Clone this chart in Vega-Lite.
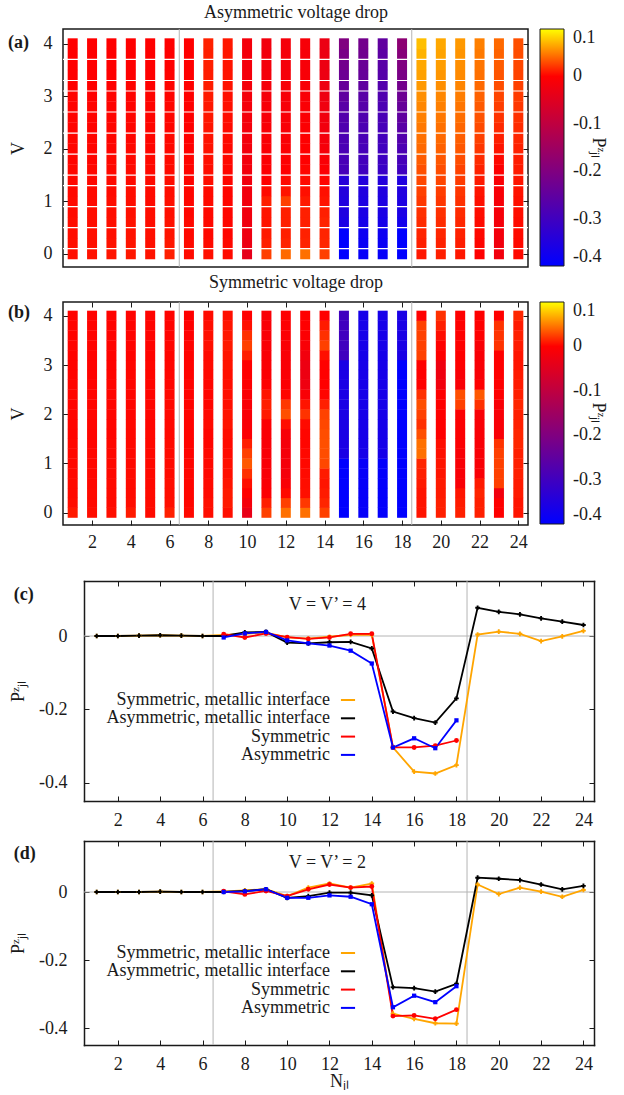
{
"$schema":"https://vega.github.io/schema/vega-lite/v6.json",
"padding":{"left":7,"top":2,"right":0,"bottom":0},
"background":"white",
"config":{
 "font":"Liberation Serif",
 "locale":{"number":{"decimal":".","thousands":",","grouping":[3],"currency":["$",""],"minus":"-"}},
 "view":{"stroke":"#1a1a1a","strokeWidth":1.5},
 "axis":{"domain":false,"grid":false,"labelFont":"Liberation Serif","labelFontSize":18,"labelColor":"#1a1a1a","titleFont":"Liberation Serif","titleFontSize":18,"titleFontWeight":"normal","titleColor":"#1a1a1a","tickColor":"#1a1a1a","tickSize":-5,"tickWidth":1,"labelFlush":false,"format":".1~f","domainColor":"#1a1a1a","domainWidth":1.5,"domainCap":"square"},
 "legend":{"labelFont":"Liberation Serif","labelFontSize":18,"labelColor":"#1a1a1a","titleFont":"Liberation Serif","titleFontSize":18,"titleFontWeight":"normal","titleColor":"#1a1a1a"},
 "text":{"font":"Liberation Serif","fontSize":18,"color":"#1a1a1a"}
},
"datasets":{
"interfaces":[{"N":6.5},{"N":18.5}],
"gapsA":[{"V":0.1},{"V":0.5},{"V":0.9},{"V":1.3},{"V":1.5},{"V":1.9},{"V":2.3},{"V":2.7},{"V":3.1},{"V":3.3},{"V":3.7}],
"asym":[
{"N":1,"V":0,"P":0.006},{"N":1,"V":0.2,"P":0.006},{"N":1,"V":0.4,"P":0.005},{"N":1,"V":0.6,"P":0.005},{"N":1,"V":0.8,"P":0.004},{"N":1,"V":1,"P":0.004},{"N":1,"V":1.2,"P":0.003},{"N":1,"V":1.4,"P":0.003},{"N":1,"V":1.6,"P":0.003},{"N":1,"V":1.8,"P":0.002},{"N":1,"V":2,"P":0.002},{"N":1,"V":2.2,"P":0.002},{"N":1,"V":2.4,"P":0.001},{"N":1,"V":2.6,"P":0.001},{"N":1,"V":2.8,"P":0.001},{"N":1,"V":3,"P":0.001},{"N":1,"V":3.2,"P":0},{"N":1,"V":3.4,"P":0},{"N":1,"V":3.6,"P":0},{"N":1,"V":3.8,"P":0},{"N":1,"V":4,"P":0},
{"N":2,"V":0,"P":0.007},{"N":2,"V":0.2,"P":0.006},{"N":2,"V":0.4,"P":0.006},{"N":2,"V":0.6,"P":0.005},{"N":2,"V":0.8,"P":0.005},{"N":2,"V":1,"P":0.004},{"N":2,"V":1.2,"P":0.004},{"N":2,"V":1.4,"P":0.003},{"N":2,"V":1.6,"P":0.003},{"N":2,"V":1.8,"P":0.002},{"N":2,"V":2,"P":0.002},{"N":2,"V":2.2,"P":0.002},{"N":2,"V":2.4,"P":0.001},{"N":2,"V":2.6,"P":0.001},{"N":2,"V":2.8,"P":0.001},{"N":2,"V":3,"P":0},{"N":2,"V":3.2,"P":0},{"N":2,"V":3.4,"P":0},{"N":2,"V":3.6,"P":0},{"N":2,"V":3.8,"P":0},{"N":2,"V":4,"P":0},
{"N":3,"V":0,"P":0.008},{"N":3,"V":0.2,"P":0.007},{"N":3,"V":0.4,"P":0.006},{"N":3,"V":0.6,"P":0.006},{"N":3,"V":0.8,"P":0.005},{"N":3,"V":1,"P":0.005},{"N":3,"V":1.2,"P":0.004},{"N":3,"V":1.4,"P":0.004},{"N":3,"V":1.6,"P":0.003},{"N":3,"V":1.8,"P":0.003},{"N":3,"V":2,"P":0.002},{"N":3,"V":2.2,"P":0.002},{"N":3,"V":2.4,"P":0.002},{"N":3,"V":2.6,"P":0.001},{"N":3,"V":2.8,"P":0.001},{"N":3,"V":3,"P":0.001},{"N":3,"V":3.2,"P":0},{"N":3,"V":3.4,"P":0},{"N":3,"V":3.6,"P":0},{"N":3,"V":3.8,"P":0},{"N":3,"V":4,"P":0},
{"N":4,"V":0,"P":0.009},{"N":4,"V":0.2,"P":0.008},{"N":4,"V":0.4,"P":0.007},{"N":4,"V":0.6,"P":0.007},{"N":4,"V":0.8,"P":0.006},{"N":4,"V":1,"P":0.005},{"N":4,"V":1.2,"P":0.005},{"N":4,"V":1.4,"P":0.004},{"N":4,"V":1.6,"P":0.004},{"N":4,"V":1.8,"P":0.003},{"N":4,"V":2,"P":0.003},{"N":4,"V":2.2,"P":0.002},{"N":4,"V":2.4,"P":0.002},{"N":4,"V":2.6,"P":0.002},{"N":4,"V":2.8,"P":0.001},{"N":4,"V":3,"P":0.001},{"N":4,"V":3.2,"P":0.001},{"N":4,"V":3.4,"P":0},{"N":4,"V":3.6,"P":0},{"N":4,"V":3.8,"P":0},{"N":4,"V":4,"P":0},
{"N":5,"V":0,"P":0.007},{"N":5,"V":0.2,"P":0.006},{"N":5,"V":0.4,"P":0.006},{"N":5,"V":0.6,"P":0.005},{"N":5,"V":0.8,"P":0.005},{"N":5,"V":1,"P":0.004},{"N":5,"V":1.2,"P":0.004},{"N":5,"V":1.4,"P":0.004},{"N":5,"V":1.6,"P":0.003},{"N":5,"V":1.8,"P":0.003},{"N":5,"V":2,"P":0.002},{"N":5,"V":2.2,"P":0.002},{"N":5,"V":2.4,"P":0.002},{"N":5,"V":2.6,"P":0.001},{"N":5,"V":2.8,"P":0.001},{"N":5,"V":3,"P":0.001},{"N":5,"V":3.2,"P":0},{"N":5,"V":3.4,"P":0},{"N":5,"V":3.6,"P":0},{"N":5,"V":3.8,"P":0},{"N":5,"V":4,"P":0},
{"N":6,"V":0,"P":0.012},{"N":6,"V":0.2,"P":0.009},{"N":6,"V":0.4,"P":0.008},{"N":6,"V":0.6,"P":0.007},{"N":6,"V":0.8,"P":0.006},{"N":6,"V":1,"P":0.006},{"N":6,"V":1.2,"P":0.005},{"N":6,"V":1.4,"P":0.005},{"N":6,"V":1.6,"P":0.004},{"N":6,"V":1.8,"P":0.004},{"N":6,"V":2,"P":0.003},{"N":6,"V":2.2,"P":0.003},{"N":6,"V":2.4,"P":0.002},{"N":6,"V":2.6,"P":0.002},{"N":6,"V":2.8,"P":0.002},{"N":6,"V":3,"P":0.001},{"N":6,"V":3.2,"P":0.001},{"N":6,"V":3.4,"P":0.001},{"N":6,"V":3.6,"P":0},{"N":6,"V":3.8,"P":0},{"N":6,"V":4,"P":0},
{"N":7,"V":0,"P":0.004},{"N":7,"V":0.2,"P":0.004},{"N":7,"V":0.4,"P":0.003},{"N":7,"V":0.6,"P":0.003},{"N":7,"V":0.8,"P":0.002},{"N":7,"V":1,"P":0.002},{"N":7,"V":1.2,"P":0.002},{"N":7,"V":1.4,"P":0.001},{"N":7,"V":1.6,"P":0.001},{"N":7,"V":1.8,"P":0.001},{"N":7,"V":2,"P":0},{"N":7,"V":2.2,"P":0},{"N":7,"V":2.4,"P":0},{"N":7,"V":2.6,"P":0},{"N":7,"V":2.8,"P":0},{"N":7,"V":3,"P":0},{"N":7,"V":3.2,"P":0},{"N":7,"V":3.4,"P":0},{"N":7,"V":3.6,"P":0},{"N":7,"V":3.8,"P":0},{"N":7,"V":4,"P":0},
{"N":8,"V":0,"P":0.006},{"N":8,"V":0.2,"P":0.004},{"N":8,"V":0.4,"P":0.003},{"N":8,"V":0.6,"P":0.003},{"N":8,"V":0.8,"P":0.003},{"N":8,"V":1,"P":0.004},{"N":8,"V":1.2,"P":0.004},{"N":8,"V":1.4,"P":0.005},{"N":8,"V":1.6,"P":0.005},{"N":8,"V":1.8,"P":0.006},{"N":8,"V":2,"P":0.007},{"N":8,"V":2.2,"P":0.007},{"N":8,"V":2.4,"P":0.008},{"N":8,"V":2.6,"P":0.009},{"N":8,"V":2.8,"P":0.009},{"N":8,"V":3,"P":0.01},{"N":8,"V":3.2,"P":0.011},{"N":8,"V":3.4,"P":0.011},{"N":8,"V":3.6,"P":0.012},{"N":8,"V":3.8,"P":0.012},{"N":8,"V":4,"P":0.013},
{"N":9,"V":0,"P":0.004},{"N":9,"V":0.2,"P":0.003},{"N":9,"V":0.4,"P":0.002},{"N":9,"V":0.6,"P":0.002},{"N":9,"V":0.8,"P":0.002},{"N":9,"V":1,"P":0.002},{"N":9,"V":1.2,"P":0.002},{"N":9,"V":1.4,"P":0.002},{"N":9,"V":1.6,"P":0.002},{"N":9,"V":1.8,"P":0.003},{"N":9,"V":2,"P":0.003},{"N":9,"V":2.2,"P":0.004},{"N":9,"V":2.4,"P":0.004},{"N":9,"V":2.6,"P":0.005},{"N":9,"V":2.8,"P":0.006},{"N":9,"V":3,"P":0.006},{"N":9,"V":3.2,"P":0.007},{"N":9,"V":3.4,"P":0.008},{"N":9,"V":3.6,"P":0.008},{"N":9,"V":3.8,"P":0.009},{"N":9,"V":4,"P":0.009},
{"N":10,"V":0,"P":-0.04},{"N":10,"V":0.2,"P":-0.028},{"N":10,"V":0.4,"P":-0.025},{"N":10,"V":0.6,"P":-0.024},{"N":10,"V":0.8,"P":-0.022},{"N":10,"V":1,"P":-0.021},{"N":10,"V":1.2,"P":-0.02},{"N":10,"V":1.4,"P":-0.02},{"N":10,"V":1.6,"P":-0.019},{"N":10,"V":1.8,"P":-0.019},{"N":10,"V":2,"P":-0.019},{"N":10,"V":2.2,"P":-0.018},{"N":10,"V":2.4,"P":-0.018},{"N":10,"V":2.6,"P":-0.018},{"N":10,"V":2.8,"P":-0.018},{"N":10,"V":3,"P":-0.017},{"N":10,"V":3.2,"P":-0.017},{"N":10,"V":3.4,"P":-0.017},{"N":10,"V":3.6,"P":-0.017},{"N":10,"V":3.8,"P":-0.017},{"N":10,"V":4,"P":-0.017},
{"N":11,"V":0,"P":0.025},{"N":11,"V":0.2,"P":0.012},{"N":11,"V":0.4,"P":0.01},{"N":11,"V":0.6,"P":0.008},{"N":11,"V":0.8,"P":0.008},{"N":11,"V":1,"P":0.012},{"N":11,"V":1.2,"P":0.004},{"N":11,"V":1.4,"P":0},{"N":11,"V":1.6,"P":-0.003},{"N":11,"V":1.8,"P":-0.005},{"N":11,"V":2,"P":-0.006},{"N":11,"V":2.2,"P":-0.008},{"N":11,"V":2.4,"P":-0.01},{"N":11,"V":2.6,"P":-0.012},{"N":11,"V":2.8,"P":-0.013},{"N":11,"V":3,"P":-0.015},{"N":11,"V":3.2,"P":-0.016},{"N":11,"V":3.4,"P":-0.018},{"N":11,"V":3.6,"P":-0.018},{"N":11,"V":3.8,"P":-0.02},{"N":11,"V":4,"P":-0.02},
{"N":12,"V":0,"P":0.041},{"N":12,"V":0.2,"P":0.014},{"N":12,"V":0.4,"P":0.012},{"N":12,"V":0.6,"P":0.012},{"N":12,"V":0.8,"P":0.012},{"N":12,"V":1,"P":0.025},{"N":12,"V":1.2,"P":0.008},{"N":12,"V":1.4,"P":0.004},{"N":12,"V":1.6,"P":0},{"N":12,"V":1.8,"P":-0.003},{"N":12,"V":2,"P":-0.005},{"N":12,"V":2.2,"P":-0.008},{"N":12,"V":2.4,"P":-0.01},{"N":12,"V":2.6,"P":-0.01},{"N":12,"V":2.8,"P":-0.012},{"N":12,"V":3,"P":-0.012},{"N":12,"V":3.2,"P":-0.013},{"N":12,"V":3.4,"P":-0.014},{"N":12,"V":3.6,"P":-0.015},{"N":12,"V":3.8,"P":-0.015},{"N":12,"V":4,"P":-0.016},
{"N":13,"V":0,"P":0.044},{"N":13,"V":0.2,"P":0.014},{"N":13,"V":0.4,"P":0.013},{"N":13,"V":0.6,"P":0.012},{"N":13,"V":0.8,"P":0.012},{"N":13,"V":1,"P":0.01},{"N":13,"V":1.2,"P":0.006},{"N":13,"V":1.4,"P":0.004},{"N":13,"V":1.6,"P":0.002},{"N":13,"V":1.8,"P":0},{"N":13,"V":2,"P":0},{"N":13,"V":2.2,"P":-0.002},{"N":13,"V":2.4,"P":-0.004},{"N":13,"V":2.6,"P":-0.006},{"N":13,"V":2.8,"P":-0.008},{"N":13,"V":3,"P":-0.009},{"N":13,"V":3.2,"P":-0.01},{"N":13,"V":3.4,"P":-0.011},{"N":13,"V":3.6,"P":-0.012},{"N":13,"V":3.8,"P":-0.012},{"N":13,"V":4,"P":-0.012},
{"N":14,"V":0,"P":0.025},{"N":14,"V":0.2,"P":0.015},{"N":14,"V":0.4,"P":0.014},{"N":14,"V":0.6,"P":0.014},{"N":14,"V":0.8,"P":0.012},{"N":14,"V":1,"P":0.008},{"N":14,"V":1.2,"P":0.006},{"N":14,"V":1.4,"P":0.002},{"N":14,"V":1.6,"P":-0.005},{"N":14,"V":1.8,"P":-0.01},{"N":14,"V":2,"P":-0.014},{"N":14,"V":2.2,"P":-0.018},{"N":14,"V":2.4,"P":-0.02},{"N":14,"V":2.6,"P":-0.022},{"N":14,"V":2.8,"P":-0.024},{"N":14,"V":3,"P":-0.026},{"N":14,"V":3.2,"P":-0.027},{"N":14,"V":3.4,"P":-0.028},{"N":14,"V":3.6,"P":-0.029},{"N":14,"V":3.8,"P":-0.03},{"N":14,"V":4,"P":-0.03},
{"N":15,"V":0,"P":-0.4},{"N":15,"V":0.2,"P":-0.4},{"N":15,"V":0.4,"P":-0.398},{"N":15,"V":0.6,"P":-0.36},{"N":15,"V":0.8,"P":-0.352},{"N":15,"V":1,"P":-0.35},{"N":15,"V":1.2,"P":-0.345},{"N":15,"V":1.4,"P":-0.34},{"N":15,"V":1.6,"P":-0.29},{"N":15,"V":1.8,"P":-0.287},{"N":15,"V":2,"P":-0.284},{"N":15,"V":2.2,"P":-0.28},{"N":15,"V":2.4,"P":-0.275},{"N":15,"V":2.6,"P":-0.27},{"N":15,"V":2.8,"P":-0.26},{"N":15,"V":3,"P":-0.25},{"N":15,"V":3.2,"P":-0.24},{"N":15,"V":3.4,"P":-0.23},{"N":15,"V":3.6,"P":-0.22},{"N":15,"V":3.8,"P":-0.21},{"N":15,"V":4,"P":-0.2},
{"N":16,"V":0,"P":-0.39},{"N":16,"V":0.2,"P":-0.385},{"N":16,"V":0.4,"P":-0.38},{"N":16,"V":0.6,"P":-0.365},{"N":16,"V":0.8,"P":-0.36},{"N":16,"V":1,"P":-0.355},{"N":16,"V":1.2,"P":-0.35},{"N":16,"V":1.4,"P":-0.345},{"N":16,"V":1.6,"P":-0.3},{"N":16,"V":1.8,"P":-0.295},{"N":16,"V":2,"P":-0.29},{"N":16,"V":2.2,"P":-0.285},{"N":16,"V":2.4,"P":-0.28},{"N":16,"V":2.6,"P":-0.275},{"N":16,"V":2.8,"P":-0.265},{"N":16,"V":3,"P":-0.26},{"N":16,"V":3.2,"P":-0.25},{"N":16,"V":3.4,"P":-0.24},{"N":16,"V":3.6,"P":-0.235},{"N":16,"V":3.8,"P":-0.225},{"N":16,"V":4,"P":-0.22},
{"N":17,"V":0,"P":-0.39},{"N":17,"V":0.2,"P":-0.385},{"N":17,"V":0.4,"P":-0.38},{"N":17,"V":0.6,"P":-0.365},{"N":17,"V":0.8,"P":-0.36},{"N":17,"V":1,"P":-0.355},{"N":17,"V":1.2,"P":-0.35},{"N":17,"V":1.4,"P":-0.345},{"N":17,"V":1.6,"P":-0.31},{"N":17,"V":1.8,"P":-0.305},{"N":17,"V":2,"P":-0.3},{"N":17,"V":2.2,"P":-0.295},{"N":17,"V":2.4,"P":-0.29},{"N":17,"V":2.6,"P":-0.285},{"N":17,"V":2.8,"P":-0.28},{"N":17,"V":3,"P":-0.275},{"N":17,"V":3.2,"P":-0.27},{"N":17,"V":3.4,"P":-0.265},{"N":17,"V":3.6,"P":-0.26},{"N":17,"V":3.8,"P":-0.255},{"N":17,"V":4,"P":-0.25},
{"N":18,"V":0,"P":-0.4},{"N":18,"V":0.2,"P":-0.4},{"N":18,"V":0.4,"P":-0.4},{"N":18,"V":0.6,"P":-0.37},{"N":18,"V":0.8,"P":-0.36},{"N":18,"V":1,"P":-0.355},{"N":18,"V":1.2,"P":-0.35},{"N":18,"V":1.4,"P":-0.35},{"N":18,"V":1.6,"P":-0.3},{"N":18,"V":1.8,"P":-0.29},{"N":18,"V":2,"P":-0.28},{"N":18,"V":2.2,"P":-0.27},{"N":18,"V":2.4,"P":-0.26},{"N":18,"V":2.6,"P":-0.25},{"N":18,"V":2.8,"P":-0.24},{"N":18,"V":3,"P":-0.23},{"N":18,"V":3.2,"P":-0.22},{"N":18,"V":3.4,"P":-0.21},{"N":18,"V":3.6,"P":-0.2},{"N":18,"V":3.8,"P":-0.19},{"N":18,"V":4,"P":-0.18},
{"N":19,"V":0,"P":0.009},{"N":19,"V":0.2,"P":0.012},{"N":19,"V":0.4,"P":0.014},{"N":19,"V":0.6,"P":0.017},{"N":19,"V":0.8,"P":0.019},{"N":19,"V":1,"P":0.022},{"N":19,"V":1.2,"P":0.025},{"N":19,"V":1.4,"P":0.028},{"N":19,"V":1.6,"P":0.031},{"N":19,"V":1.8,"P":0.036},{"N":19,"V":2,"P":0.041},{"N":19,"V":2.2,"P":0.044},{"N":19,"V":2.4,"P":0.047},{"N":19,"V":2.6,"P":0.05},{"N":19,"V":2.8,"P":0.053},{"N":19,"V":3,"P":0.056},{"N":19,"V":3.2,"P":0.06},{"N":19,"V":3.4,"P":0.063},{"N":19,"V":3.6,"P":0.066},{"N":19,"V":3.8,"P":0.07},{"N":19,"V":4,"P":0.075},
{"N":20,"V":0,"P":0.012},{"N":20,"V":0.2,"P":0.013},{"N":20,"V":0.4,"P":0.015},{"N":20,"V":0.6,"P":0.017},{"N":20,"V":0.8,"P":0.019},{"N":20,"V":1,"P":0.021},{"N":20,"V":1.2,"P":0.024},{"N":20,"V":1.4,"P":0.027},{"N":20,"V":1.6,"P":0.03},{"N":20,"V":1.8,"P":0.034},{"N":20,"V":2,"P":0.038},{"N":20,"V":2.2,"P":0.041},{"N":20,"V":2.4,"P":0.044},{"N":20,"V":2.6,"P":0.047},{"N":20,"V":2.8,"P":0.05},{"N":20,"V":3,"P":0.053},{"N":20,"V":3.2,"P":0.056},{"N":20,"V":3.4,"P":0.059},{"N":20,"V":3.6,"P":0.062},{"N":20,"V":3.8,"P":0.064},{"N":20,"V":4,"P":0.066},
{"N":21,"V":0,"P":0.009},{"N":21,"V":0.2,"P":0.011},{"N":21,"V":0.4,"P":0.013},{"N":21,"V":0.6,"P":0.015},{"N":21,"V":0.8,"P":0.017},{"N":21,"V":1,"P":0.019},{"N":21,"V":1.2,"P":0.021},{"N":21,"V":1.4,"P":0.023},{"N":21,"V":1.6,"P":0.026},{"N":21,"V":1.8,"P":0.03},{"N":21,"V":2,"P":0.034},{"N":21,"V":2.2,"P":0.037},{"N":21,"V":2.4,"P":0.04},{"N":21,"V":2.6,"P":0.043},{"N":21,"V":2.8,"P":0.046},{"N":21,"V":3,"P":0.049},{"N":21,"V":3.2,"P":0.052},{"N":21,"V":3.4,"P":0.054},{"N":21,"V":3.6,"P":0.056},{"N":21,"V":3.8,"P":0.058},{"N":21,"V":4,"P":0.06},
{"N":22,"V":0,"P":0},{"N":22,"V":0.2,"P":0.002},{"N":22,"V":0.4,"P":0.003},{"N":22,"V":0.6,"P":0.004},{"N":22,"V":0.8,"P":0.005},{"N":22,"V":1,"P":0.006},{"N":22,"V":1.2,"P":0.008},{"N":22,"V":1.4,"P":0.01},{"N":22,"V":1.6,"P":0.013},{"N":22,"V":1.8,"P":0.017},{"N":22,"V":2,"P":0.021},{"N":22,"V":2.2,"P":0.025},{"N":22,"V":2.4,"P":0.029},{"N":22,"V":2.6,"P":0.032},{"N":22,"V":2.8,"P":0.035},{"N":22,"V":3,"P":0.038},{"N":22,"V":3.2,"P":0.041},{"N":22,"V":3.4,"P":0.044},{"N":22,"V":3.6,"P":0.046},{"N":22,"V":3.8,"P":0.048},{"N":22,"V":4,"P":0.05},
{"N":23,"V":0,"P":-0.02},{"N":23,"V":0.2,"P":-0.02},{"N":23,"V":0.4,"P":-0.018},{"N":23,"V":0.6,"P":-0.016},{"N":23,"V":0.8,"P":-0.014},{"N":23,"V":1,"P":-0.012},{"N":23,"V":1.2,"P":-0.01},{"N":23,"V":1.4,"P":-0.006},{"N":23,"V":1.6,"P":-0.002},{"N":23,"V":1.8,"P":0.003},{"N":23,"V":2,"P":0.008},{"N":23,"V":2.2,"P":0.012},{"N":23,"V":2.4,"P":0.016},{"N":23,"V":2.6,"P":0.02},{"N":23,"V":2.8,"P":0.024},{"N":23,"V":3,"P":0.027},{"N":23,"V":3.2,"P":0.03},{"N":23,"V":3.4,"P":0.033},{"N":23,"V":3.6,"P":0.036},{"N":23,"V":3.8,"P":0.039},{"N":23,"V":4,"P":0.041},
{"N":24,"V":0,"P":0.003},{"N":24,"V":0.2,"P":0.003},{"N":24,"V":0.4,"P":0.004},{"N":24,"V":0.6,"P":0.004},{"N":24,"V":0.8,"P":0.005},{"N":24,"V":1,"P":0.006},{"N":24,"V":1.2,"P":0.007},{"N":24,"V":1.4,"P":0.008},{"N":24,"V":1.6,"P":0.01},{"N":24,"V":1.8,"P":0.011},{"N":24,"V":2,"P":0.013},{"N":24,"V":2.2,"P":0.015},{"N":24,"V":2.4,"P":0.017},{"N":24,"V":2.6,"P":0.019},{"N":24,"V":2.8,"P":0.021},{"N":24,"V":3,"P":0.023},{"N":24,"V":3.2,"P":0.025},{"N":24,"V":3.4,"P":0.026},{"N":24,"V":3.6,"P":0.028},{"N":24,"V":3.8,"P":0.03},{"N":24,"V":4,"P":0.031}
],
"sym":[
{"N":1,"V":0,"P":0.01},{"N":1,"V":0.2,"P":0.005},{"N":1,"V":0.4,"P":0.004},{"N":1,"V":0.6,"P":0.004},{"N":1,"V":0.8,"P":0.003},{"N":1,"V":1,"P":0.003},{"N":1,"V":1.2,"P":0.003},{"N":1,"V":1.4,"P":0.003},{"N":1,"V":1.6,"P":0.002},{"N":1,"V":1.8,"P":0.002},{"N":1,"V":2,"P":0.002},{"N":1,"V":2.2,"P":0.002},{"N":1,"V":2.4,"P":0.002},{"N":1,"V":2.6,"P":0.002},{"N":1,"V":2.8,"P":0.001},{"N":1,"V":3,"P":0.001},{"N":1,"V":3.2,"P":0.001},{"N":1,"V":3.4,"P":0.001},{"N":1,"V":3.6,"P":0.001},{"N":1,"V":3.8,"P":0.001},{"N":1,"V":4,"P":0.001},
{"N":2,"V":0,"P":0.005},{"N":2,"V":0.2,"P":0.004},{"N":2,"V":0.4,"P":0.004},{"N":2,"V":0.6,"P":0.003},{"N":2,"V":0.8,"P":0.003},{"N":2,"V":1,"P":0.003},{"N":2,"V":1.2,"P":0.003},{"N":2,"V":1.4,"P":0.002},{"N":2,"V":1.6,"P":0.002},{"N":2,"V":1.8,"P":0.002},{"N":2,"V":2,"P":0.002},{"N":2,"V":2.2,"P":0.002},{"N":2,"V":2.4,"P":0.002},{"N":2,"V":2.6,"P":0.001},{"N":2,"V":2.8,"P":0.001},{"N":2,"V":3,"P":0.001},{"N":2,"V":3.2,"P":0.001},{"N":2,"V":3.4,"P":0.001},{"N":2,"V":3.6,"P":0.001},{"N":2,"V":3.8,"P":0.001},{"N":2,"V":4,"P":0.001},
{"N":3,"V":0,"P":0.006},{"N":3,"V":0.2,"P":0.004},{"N":3,"V":0.4,"P":0.004},{"N":3,"V":0.6,"P":0.004},{"N":3,"V":0.8,"P":0.003},{"N":3,"V":1,"P":0.003},{"N":3,"V":1.2,"P":0.003},{"N":3,"V":1.4,"P":0.003},{"N":3,"V":1.6,"P":0.002},{"N":3,"V":1.8,"P":0.002},{"N":3,"V":2,"P":0.002},{"N":3,"V":2.2,"P":0.002},{"N":3,"V":2.4,"P":0.002},{"N":3,"V":2.6,"P":0.002},{"N":3,"V":2.8,"P":0.002},{"N":3,"V":3,"P":0.001},{"N":3,"V":3.2,"P":0.001},{"N":3,"V":3.4,"P":0.001},{"N":3,"V":3.6,"P":0.001},{"N":3,"V":3.8,"P":0.001},{"N":3,"V":4,"P":0.001},
{"N":4,"V":0,"P":0.01},{"N":4,"V":0.2,"P":0.005},{"N":4,"V":0.4,"P":0.004},{"N":4,"V":0.6,"P":0.004},{"N":4,"V":0.8,"P":0.004},{"N":4,"V":1,"P":0.003},{"N":4,"V":1.2,"P":0.003},{"N":4,"V":1.4,"P":0.003},{"N":4,"V":1.6,"P":0.003},{"N":4,"V":1.8,"P":0.003},{"N":4,"V":2,"P":0.002},{"N":4,"V":2.2,"P":0.002},{"N":4,"V":2.4,"P":0.002},{"N":4,"V":2.6,"P":0.002},{"N":4,"V":2.8,"P":0.002},{"N":4,"V":3,"P":0.002},{"N":4,"V":3.2,"P":0.001},{"N":4,"V":3.4,"P":0.001},{"N":4,"V":3.6,"P":0.001},{"N":4,"V":3.8,"P":0.001},{"N":4,"V":4,"P":0.001},
{"N":5,"V":0,"P":0.004},{"N":5,"V":0.2,"P":0.004},{"N":5,"V":0.4,"P":0.004},{"N":5,"V":0.6,"P":0.003},{"N":5,"V":0.8,"P":0.003},{"N":5,"V":1,"P":0.003},{"N":5,"V":1.2,"P":0.003},{"N":5,"V":1.4,"P":0.003},{"N":5,"V":1.6,"P":0.003},{"N":5,"V":1.8,"P":0.002},{"N":5,"V":2,"P":0.002},{"N":5,"V":2.2,"P":0.002},{"N":5,"V":2.4,"P":0.002},{"N":5,"V":2.6,"P":0.002},{"N":5,"V":2.8,"P":0.002},{"N":5,"V":3,"P":0.002},{"N":5,"V":3.2,"P":0.001},{"N":5,"V":3.4,"P":0.001},{"N":5,"V":3.6,"P":0.001},{"N":5,"V":3.8,"P":0.001},{"N":5,"V":4,"P":0.001},
{"N":6,"V":0,"P":0.012},{"N":6,"V":0.2,"P":0.006},{"N":6,"V":0.4,"P":0.005},{"N":6,"V":0.6,"P":0.005},{"N":6,"V":0.8,"P":0.004},{"N":6,"V":1,"P":0.004},{"N":6,"V":1.2,"P":0.004},{"N":6,"V":1.4,"P":0.004},{"N":6,"V":1.6,"P":0.003},{"N":6,"V":1.8,"P":0.003},{"N":6,"V":2,"P":0.003},{"N":6,"V":2.2,"P":0.003},{"N":6,"V":2.4,"P":0.003},{"N":6,"V":2.6,"P":0.002},{"N":6,"V":2.8,"P":0.002},{"N":6,"V":3,"P":0.002},{"N":6,"V":3.2,"P":0.002},{"N":6,"V":3.4,"P":0.002},{"N":6,"V":3.6,"P":0.001},{"N":6,"V":3.8,"P":0.001},{"N":6,"V":4,"P":0.001},
{"N":7,"V":0,"P":0.003},{"N":7,"V":0.2,"P":0.002},{"N":7,"V":0.4,"P":0.002},{"N":7,"V":0.6,"P":0.002},{"N":7,"V":0.8,"P":0.002},{"N":7,"V":1,"P":0.002},{"N":7,"V":1.2,"P":0.001},{"N":7,"V":1.4,"P":0.001},{"N":7,"V":1.6,"P":0.001},{"N":7,"V":1.8,"P":0.001},{"N":7,"V":2,"P":0.001},{"N":7,"V":2.2,"P":0.001},{"N":7,"V":2.4,"P":0.001},{"N":7,"V":2.6,"P":0.001},{"N":7,"V":2.8,"P":0.001},{"N":7,"V":3,"P":0.001},{"N":7,"V":3.2,"P":0.001},{"N":7,"V":3.4,"P":0.001},{"N":7,"V":3.6,"P":0},{"N":7,"V":3.8,"P":0},{"N":7,"V":4,"P":0},
{"N":8,"V":0,"P":0.005},{"N":8,"V":0.2,"P":0.006},{"N":8,"V":0.4,"P":0.004},{"N":8,"V":0.6,"P":0.004},{"N":8,"V":0.8,"P":0.003},{"N":8,"V":1,"P":0.003},{"N":8,"V":1.2,"P":0.003},{"N":8,"V":1.4,"P":0.002},{"N":8,"V":1.6,"P":0.002},{"N":8,"V":1.8,"P":0.004},{"N":8,"V":2,"P":0.003},{"N":8,"V":2.2,"P":0.002},{"N":8,"V":2.4,"P":0.002},{"N":8,"V":2.6,"P":0.002},{"N":8,"V":2.8,"P":0.003},{"N":8,"V":3,"P":0.004},{"N":8,"V":3.2,"P":0.004},{"N":8,"V":3.4,"P":0.006},{"N":8,"V":3.6,"P":0.006},{"N":8,"V":3.8,"P":0.005},{"N":8,"V":4,"P":0.004},
{"N":9,"V":0,"P":0.006},{"N":9,"V":0.2,"P":0.01},{"N":9,"V":0.4,"P":0.01},{"N":9,"V":0.6,"P":0.008},{"N":9,"V":0.8,"P":0.006},{"N":9,"V":1,"P":0.006},{"N":9,"V":1.2,"P":0.004},{"N":9,"V":1.4,"P":0.004},{"N":9,"V":1.6,"P":0.005},{"N":9,"V":1.8,"P":0.008},{"N":9,"V":2,"P":0.008},{"N":9,"V":2.2,"P":0.006},{"N":9,"V":2.4,"P":0.006},{"N":9,"V":2.6,"P":0.005},{"N":9,"V":2.8,"P":0.006},{"N":9,"V":3,"P":0.008},{"N":9,"V":3.2,"P":0.008},{"N":9,"V":3.4,"P":0.01},{"N":9,"V":3.6,"P":0.009},{"N":9,"V":3.8,"P":0.008},{"N":9,"V":4,"P":0.006},
{"N":10,"V":0,"P":-0.035},{"N":10,"V":0.2,"P":-0.015},{"N":10,"V":0.4,"P":0},{"N":10,"V":0.6,"P":0.006},{"N":10,"V":0.8,"P":0.019},{"N":10,"V":1,"P":0.035},{"N":10,"V":1.2,"P":0.025},{"N":10,"V":1.4,"P":0.012},{"N":10,"V":1.6,"P":-0.005},{"N":10,"V":1.8,"P":-0.01},{"N":10,"V":2,"P":-0.01},{"N":10,"V":2.2,"P":-0.01},{"N":10,"V":2.4,"P":-0.008},{"N":10,"V":2.6,"P":-0.003},{"N":10,"V":2.8,"P":0},{"N":10,"V":3,"P":0},{"N":10,"V":3.2,"P":0.012},{"N":10,"V":3.4,"P":0.025},{"N":10,"V":3.6,"P":0.019},{"N":10,"V":3.8,"P":0.006},{"N":10,"V":4,"P":0},
{"N":11,"V":0,"P":0.025},{"N":11,"V":0.2,"P":0.012},{"N":11,"V":0.4,"P":-0.005},{"N":11,"V":0.6,"P":-0.008},{"N":11,"V":0.8,"P":-0.01},{"N":11,"V":1,"P":-0.01},{"N":11,"V":1.2,"P":-0.01},{"N":11,"V":1.4,"P":-0.01},{"N":11,"V":1.6,"P":-0.008},{"N":11,"V":1.8,"P":-0.005},{"N":11,"V":2,"P":0.01},{"N":11,"V":2.2,"P":0.012},{"N":11,"V":2.4,"P":0.008},{"N":11,"V":2.6,"P":-0.003},{"N":11,"V":2.8,"P":-0.006},{"N":11,"V":3,"P":-0.008},{"N":11,"V":3.2,"P":-0.01},{"N":11,"V":3.4,"P":-0.01},{"N":11,"V":3.6,"P":-0.01},{"N":11,"V":3.8,"P":-0.01},{"N":11,"V":4,"P":-0.01},
{"N":12,"V":0,"P":0.044},{"N":12,"V":0.2,"P":0.025},{"N":12,"V":0.4,"P":0.003},{"N":12,"V":0.6,"P":-0.01},{"N":12,"V":0.8,"P":-0.015},{"N":12,"V":1,"P":-0.015},{"N":12,"V":1.2,"P":-0.015},{"N":12,"V":1.4,"P":-0.015},{"N":12,"V":1.6,"P":-0.012},{"N":12,"V":1.8,"P":0.005},{"N":12,"V":2,"P":0.031},{"N":12,"V":2.2,"P":0.022},{"N":12,"V":2.4,"P":0.002},{"N":12,"V":2.6,"P":-0.005},{"N":12,"V":2.8,"P":-0.008},{"N":12,"V":3,"P":-0.01},{"N":12,"V":3.2,"P":-0.01},{"N":12,"V":3.4,"P":-0.008},{"N":12,"V":3.6,"P":-0.005},{"N":12,"V":3.8,"P":-0.003},{"N":12,"V":4,"P":-0.002},
{"N":13,"V":0,"P":0.044},{"N":13,"V":0.2,"P":0.022},{"N":13,"V":0.4,"P":0.006},{"N":13,"V":0.6,"P":0.005},{"N":13,"V":0.8,"P":0.004},{"N":13,"V":1,"P":0.003},{"N":13,"V":1.2,"P":0.003},{"N":13,"V":1.4,"P":0.002},{"N":13,"V":1.6,"P":0.002},{"N":13,"V":1.8,"P":0.004},{"N":13,"V":2,"P":0.02},{"N":13,"V":2.2,"P":0.008},{"N":13,"V":2.4,"P":-0.01},{"N":13,"V":2.6,"P":-0.025},{"N":13,"V":2.8,"P":-0.028},{"N":13,"V":3,"P":-0.028},{"N":13,"V":3.2,"P":-0.02},{"N":13,"V":3.4,"P":-0.01},{"N":13,"V":3.6,"P":-0.004},{"N":13,"V":3.8,"P":-0.002},{"N":13,"V":4,"P":0},
{"N":14,"V":0,"P":0.025},{"N":14,"V":0.2,"P":0.014},{"N":14,"V":0.4,"P":0.01},{"N":14,"V":0.6,"P":0.008},{"N":14,"V":0.8,"P":0.01},{"N":14,"V":1,"P":0.028},{"N":14,"V":1.2,"P":0.03},{"N":14,"V":1.4,"P":0.031},{"N":14,"V":1.6,"P":0.03},{"N":14,"V":1.8,"P":0.028},{"N":14,"V":2,"P":0.026},{"N":14,"V":2.2,"P":0.012},{"N":14,"V":2.4,"P":0.002},{"N":14,"V":2.6,"P":0},{"N":14,"V":2.8,"P":0},{"N":14,"V":3,"P":0},{"N":14,"V":3.2,"P":0.006},{"N":14,"V":3.4,"P":0.025},{"N":14,"V":3.6,"P":0.019},{"N":14,"V":3.8,"P":0.01},{"N":14,"V":4,"P":0},
{"N":15,"V":0,"P":-0.4},{"N":15,"V":0.2,"P":-0.4},{"N":15,"V":0.4,"P":-0.4},{"N":15,"V":0.6,"P":-0.4},{"N":15,"V":0.8,"P":-0.4},{"N":15,"V":1,"P":-0.4},{"N":15,"V":1.2,"P":-0.36},{"N":15,"V":1.4,"P":-0.36},{"N":15,"V":1.6,"P":-0.36},{"N":15,"V":1.8,"P":-0.36},{"N":15,"V":2,"P":-0.36},{"N":15,"V":2.2,"P":-0.36},{"N":15,"V":2.4,"P":-0.36},{"N":15,"V":2.6,"P":-0.36},{"N":15,"V":2.8,"P":-0.36},{"N":15,"V":3,"P":-0.36},{"N":15,"V":3.2,"P":-0.3},{"N":15,"V":3.4,"P":-0.3},{"N":15,"V":3.6,"P":-0.3},{"N":15,"V":3.8,"P":-0.3},{"N":15,"V":4,"P":-0.3},
{"N":16,"V":0,"P":-0.39},{"N":16,"V":0.2,"P":-0.39},{"N":16,"V":0.4,"P":-0.39},{"N":16,"V":0.6,"P":-0.39},{"N":16,"V":0.8,"P":-0.39},{"N":16,"V":1,"P":-0.39},{"N":16,"V":1.2,"P":-0.365},{"N":16,"V":1.4,"P":-0.365},{"N":16,"V":1.6,"P":-0.365},{"N":16,"V":1.8,"P":-0.365},{"N":16,"V":2,"P":-0.365},{"N":16,"V":2.2,"P":-0.365},{"N":16,"V":2.4,"P":-0.365},{"N":16,"V":2.6,"P":-0.365},{"N":16,"V":2.8,"P":-0.365},{"N":16,"V":3,"P":-0.365},{"N":16,"V":3.2,"P":-0.365},{"N":16,"V":3.4,"P":-0.365},{"N":16,"V":3.6,"P":-0.365},{"N":16,"V":3.8,"P":-0.365},{"N":16,"V":4,"P":-0.365},
{"N":17,"V":0,"P":-0.395},{"N":17,"V":0.2,"P":-0.395},{"N":17,"V":0.4,"P":-0.395},{"N":17,"V":0.6,"P":-0.395},{"N":17,"V":0.8,"P":-0.395},{"N":17,"V":1,"P":-0.395},{"N":17,"V":1.2,"P":-0.365},{"N":17,"V":1.4,"P":-0.365},{"N":17,"V":1.6,"P":-0.365},{"N":17,"V":1.8,"P":-0.365},{"N":17,"V":2,"P":-0.365},{"N":17,"V":2.2,"P":-0.365},{"N":17,"V":2.4,"P":-0.365},{"N":17,"V":2.6,"P":-0.365},{"N":17,"V":2.8,"P":-0.365},{"N":17,"V":3,"P":-0.365},{"N":17,"V":3.2,"P":-0.365},{"N":17,"V":3.4,"P":-0.365},{"N":17,"V":3.6,"P":-0.365},{"N":17,"V":3.8,"P":-0.365},{"N":17,"V":4,"P":-0.365},
{"N":18,"V":0,"P":-0.4},{"N":18,"V":0.2,"P":-0.4},{"N":18,"V":0.4,"P":-0.4},{"N":18,"V":0.6,"P":-0.4},{"N":18,"V":0.8,"P":-0.4},{"N":18,"V":1,"P":-0.4},{"N":18,"V":1.2,"P":-0.4},{"N":18,"V":1.4,"P":-0.4},{"N":18,"V":1.6,"P":-0.4},{"N":18,"V":1.8,"P":-0.4},{"N":18,"V":2,"P":-0.4},{"N":18,"V":2.2,"P":-0.4},{"N":18,"V":2.4,"P":-0.4},{"N":18,"V":2.6,"P":-0.4},{"N":18,"V":2.8,"P":-0.4},{"N":18,"V":3,"P":-0.4},{"N":18,"V":3.2,"P":-0.36},{"N":18,"V":3.4,"P":-0.36},{"N":18,"V":3.6,"P":-0.36},{"N":18,"V":3.8,"P":-0.36},{"N":18,"V":4,"P":-0.36},
{"N":19,"V":0,"P":0.008},{"N":19,"V":0.2,"P":0.008},{"N":19,"V":0.4,"P":0.008},{"N":19,"V":0.6,"P":0.01},{"N":19,"V":0.8,"P":0.012},{"N":19,"V":1,"P":0.015},{"N":19,"V":1.2,"P":0.044},{"N":19,"V":1.4,"P":0.044},{"N":19,"V":1.6,"P":0.031},{"N":19,"V":1.8,"P":0.019},{"N":19,"V":2,"P":0.025},{"N":19,"V":2.2,"P":0.031},{"N":19,"V":2.4,"P":0.019},{"N":19,"V":2.6,"P":0},{"N":19,"V":2.8,"P":0},{"N":19,"V":3,"P":0},{"N":19,"V":3.2,"P":0.025},{"N":19,"V":3.4,"P":0.025},{"N":19,"V":3.6,"P":0.025},{"N":19,"V":3.8,"P":0.025},{"N":19,"V":4,"P":0},
{"N":20,"V":0,"P":0.012},{"N":20,"V":0.2,"P":0.012},{"N":20,"V":0.4,"P":0.01},{"N":20,"V":0.6,"P":0.01},{"N":20,"V":0.8,"P":0.008},{"N":20,"V":1,"P":0.008},{"N":20,"V":1.2,"P":0.006},{"N":20,"V":1.4,"P":0.005},{"N":20,"V":1.6,"P":0},{"N":20,"V":1.8,"P":0},{"N":20,"V":2,"P":0},{"N":20,"V":2.2,"P":0},{"N":20,"V":2.4,"P":0},{"N":20,"V":2.6,"P":-0.02},{"N":20,"V":2.8,"P":-0.025},{"N":20,"V":3,"P":-0.025},{"N":20,"V":3.2,"P":0},{"N":20,"V":3.4,"P":0},{"N":20,"V":3.6,"P":0.005},{"N":20,"V":3.8,"P":0.012},{"N":20,"V":4,"P":0.019},
{"N":21,"V":0,"P":0.012},{"N":21,"V":0.2,"P":0.01},{"N":21,"V":0.4,"P":0.008},{"N":21,"V":0.6,"P":-0.01},{"N":21,"V":0.8,"P":-0.01},{"N":21,"V":1,"P":-0.01},{"N":21,"V":1.2,"P":-0.01},{"N":21,"V":1.4,"P":-0.005},{"N":21,"V":1.6,"P":-0.005},{"N":21,"V":1.8,"P":-0.005},{"N":21,"V":2,"P":-0.005},{"N":21,"V":2.2,"P":0.025},{"N":21,"V":2.4,"P":0.031},{"N":21,"V":2.6,"P":-0.01},{"N":21,"V":2.8,"P":-0.01},{"N":21,"V":3,"P":0},{"N":21,"V":3.2,"P":0},{"N":21,"V":3.4,"P":0},{"N":21,"V":3.6,"P":0},{"N":21,"V":3.8,"P":0},{"N":21,"V":4,"P":0},
{"N":22,"V":0,"P":0.012},{"N":22,"V":0.2,"P":0.012},{"N":22,"V":0.4,"P":0.014},{"N":22,"V":0.6,"P":0.01},{"N":22,"V":0.8,"P":-0.008},{"N":22,"V":1,"P":-0.01},{"N":22,"V":1.2,"P":-0.01},{"N":22,"V":1.4,"P":-0.01},{"N":22,"V":1.6,"P":-0.01},{"N":22,"V":1.8,"P":-0.01},{"N":22,"V":2,"P":-0.01},{"N":22,"V":2.2,"P":0.019},{"N":22,"V":2.4,"P":0.035},{"N":22,"V":2.6,"P":0},{"N":22,"V":2.8,"P":-0.01},{"N":22,"V":3,"P":-0.01},{"N":22,"V":3.2,"P":-0.01},{"N":22,"V":3.4,"P":-0.01},{"N":22,"V":3.6,"P":0},{"N":22,"V":3.8,"P":0},{"N":22,"V":4,"P":0},
{"N":23,"V":0,"P":0},{"N":23,"V":0.2,"P":0},{"N":23,"V":0.4,"P":-0.02},{"N":23,"V":0.6,"P":0.025},{"N":23,"V":0.8,"P":0.025},{"N":23,"V":1,"P":0.025},{"N":23,"V":1.2,"P":0.025},{"N":23,"V":1.4,"P":0.02},{"N":23,"V":1.6,"P":-0.01},{"N":23,"V":1.8,"P":-0.01},{"N":23,"V":2,"P":-0.01},{"N":23,"V":2.2,"P":-0.01},{"N":23,"V":2.4,"P":0},{"N":23,"V":2.6,"P":0},{"N":23,"V":2.8,"P":0},{"N":23,"V":3,"P":0},{"N":23,"V":3.2,"P":0},{"N":23,"V":3.4,"P":0.02},{"N":23,"V":3.6,"P":0.02},{"N":23,"V":3.8,"P":0.02},{"N":23,"V":4,"P":0},
{"N":24,"V":0,"P":0.008},{"N":24,"V":0.2,"P":0.008},{"N":24,"V":0.4,"P":0.01},{"N":24,"V":0.6,"P":0.01},{"N":24,"V":0.8,"P":0.012},{"N":24,"V":1,"P":0.012},{"N":24,"V":1.2,"P":0.012},{"N":24,"V":1.4,"P":0.015},{"N":24,"V":1.6,"P":0.015},{"N":24,"V":1.8,"P":0.012},{"N":24,"V":2,"P":0.012},{"N":24,"V":2.2,"P":0.015},{"N":24,"V":2.4,"P":0.012},{"N":24,"V":2.6,"P":0.01},{"N":24,"V":2.8,"P":0.01},{"N":24,"V":3,"P":0.008},{"N":24,"V":3.2,"P":0.008},{"N":24,"V":3.4,"P":0.01},{"N":24,"V":3.6,"P":0.012},{"N":24,"V":3.8,"P":0.01},{"N":24,"V":4,"P":0.015}
],
"linesC":[
{"series":"Symmetric, metallic interface","N":1,"P":0},{"series":"Symmetric, metallic interface","N":2,"P":0},{"series":"Symmetric, metallic interface","N":3,"P":0.001},{"series":"Symmetric, metallic interface","N":4,"P":0.002},{"series":"Symmetric, metallic interface","N":5,"P":0.001},{"series":"Symmetric, metallic interface","N":6,"P":0},{"series":"Symmetric, metallic interface","N":7,"P":0.003},{"series":"Symmetric, metallic interface","N":8,"P":0.006},{"series":"Symmetric, metallic interface","N":9,"P":0.009},{"series":"Symmetric, metallic interface","N":10,"P":-0.004},{"series":"Symmetric, metallic interface","N":11,"P":-0.007},{"series":"Symmetric, metallic interface","N":12,"P":-0.002},{"series":"Symmetric, metallic interface","N":13,"P":0.003},{"series":"Symmetric, metallic interface","N":14,"P":0.003},{"series":"Symmetric, metallic interface","N":15,"P":-0.304},{"series":"Symmetric, metallic interface","N":16,"P":-0.37},{"series":"Symmetric, metallic interface","N":17,"P":-0.375},{"series":"Symmetric, metallic interface","N":18,"P":-0.352},{"series":"Symmetric, metallic interface","N":19,"P":0.004},{"series":"Symmetric, metallic interface","N":20,"P":0.012},{"series":"Symmetric, metallic interface","N":21,"P":0.006},{"series":"Symmetric, metallic interface","N":22,"P":-0.014},{"series":"Symmetric, metallic interface","N":23,"P":-0.001},{"series":"Symmetric, metallic interface","N":24,"P":0.014},
{"series":"Asymmetric, metallic interface","N":1,"P":0},{"series":"Asymmetric, metallic interface","N":2,"P":0},{"series":"Asymmetric, metallic interface","N":3,"P":0.001},{"series":"Asymmetric, metallic interface","N":4,"P":0.002},{"series":"Asymmetric, metallic interface","N":5,"P":0.001},{"series":"Asymmetric, metallic interface","N":6,"P":0},{"series":"Asymmetric, metallic interface","N":7,"P":0},{"series":"Asymmetric, metallic interface","N":8,"P":0.01},{"series":"Asymmetric, metallic interface","N":9,"P":0.011},{"series":"Asymmetric, metallic interface","N":10,"P":-0.018},{"series":"Asymmetric, metallic interface","N":11,"P":-0.02},{"series":"Asymmetric, metallic interface","N":12,"P":-0.017},{"series":"Asymmetric, metallic interface","N":13,"P":-0.016},{"series":"Asymmetric, metallic interface","N":14,"P":-0.034},{"series":"Asymmetric, metallic interface","N":15,"P":-0.206},{"series":"Asymmetric, metallic interface","N":16,"P":-0.224},{"series":"Asymmetric, metallic interface","N":17,"P":-0.236},{"series":"Asymmetric, metallic interface","N":18,"P":-0.17},{"series":"Asymmetric, metallic interface","N":19,"P":0.077},{"series":"Asymmetric, metallic interface","N":20,"P":0.066},{"series":"Asymmetric, metallic interface","N":21,"P":0.059},{"series":"Asymmetric, metallic interface","N":22,"P":0.048},{"series":"Asymmetric, metallic interface","N":23,"P":0.039},{"series":"Asymmetric, metallic interface","N":24,"P":0.03},
{"series":"Symmetric","N":7,"P":0.005},{"series":"Symmetric","N":8,"P":-0.004},{"series":"Symmetric","N":9,"P":0.007},{"series":"Symmetric","N":10,"P":-0.003},{"series":"Symmetric","N":11,"P":-0.008},{"series":"Symmetric","N":12,"P":-0.004},{"series":"Symmetric","N":13,"P":0.006},{"series":"Symmetric","N":14,"P":0.006},{"series":"Symmetric","N":15,"P":-0.304},{"series":"Symmetric","N":16,"P":-0.304},{"series":"Symmetric","N":17,"P":-0.299},{"series":"Symmetric","N":18,"P":-0.285},
{"series":"Asymmetric","N":7,"P":-0.004},{"series":"Asymmetric","N":8,"P":0.007},{"series":"Asymmetric","N":9,"P":0.011},{"series":"Asymmetric","N":10,"P":-0.012},{"series":"Asymmetric","N":11,"P":-0.02},{"series":"Asymmetric","N":12,"P":-0.026},{"series":"Asymmetric","N":13,"P":-0.04},{"series":"Asymmetric","N":14,"P":-0.075},{"series":"Asymmetric","N":15,"P":-0.304},{"series":"Asymmetric","N":16,"P":-0.279},{"series":"Asymmetric","N":17,"P":-0.306},{"series":"Asymmetric","N":18,"P":-0.23}
],
"linesD":[
{"series":"Symmetric, metallic interface","N":1,"P":0},{"series":"Symmetric, metallic interface","N":2,"P":0},{"series":"Symmetric, metallic interface","N":3,"P":0},{"series":"Symmetric, metallic interface","N":4,"P":0.001},{"series":"Symmetric, metallic interface","N":5,"P":0},{"series":"Symmetric, metallic interface","N":6,"P":0},{"series":"Symmetric, metallic interface","N":7,"P":0.002},{"series":"Symmetric, metallic interface","N":8,"P":0.005},{"series":"Symmetric, metallic interface","N":9,"P":0.008},{"series":"Symmetric, metallic interface","N":10,"P":-0.012},{"series":"Symmetric, metallic interface","N":11,"P":0.013},{"series":"Symmetric, metallic interface","N":12,"P":0.025},{"series":"Symmetric, metallic interface","N":13,"P":0.013},{"series":"Symmetric, metallic interface","N":14,"P":0.025},{"series":"Symmetric, metallic interface","N":15,"P":-0.358},{"series":"Symmetric, metallic interface","N":16,"P":-0.373},{"series":"Symmetric, metallic interface","N":17,"P":-0.386},{"series":"Symmetric, metallic interface","N":18,"P":-0.387},{"series":"Symmetric, metallic interface","N":19,"P":0.022},{"series":"Symmetric, metallic interface","N":20,"P":-0.006},{"series":"Symmetric, metallic interface","N":21,"P":0.013},{"series":"Symmetric, metallic interface","N":22,"P":0.001},{"series":"Symmetric, metallic interface","N":23,"P":-0.014},{"series":"Symmetric, metallic interface","N":24,"P":0.006},
{"series":"Asymmetric, metallic interface","N":1,"P":0},{"series":"Asymmetric, metallic interface","N":2,"P":0},{"series":"Asymmetric, metallic interface","N":3,"P":0},{"series":"Asymmetric, metallic interface","N":4,"P":0.001},{"series":"Asymmetric, metallic interface","N":5,"P":0},{"series":"Asymmetric, metallic interface","N":6,"P":0},{"series":"Asymmetric, metallic interface","N":7,"P":0},{"series":"Asymmetric, metallic interface","N":8,"P":0.003},{"series":"Asymmetric, metallic interface","N":9,"P":0.008},{"series":"Asymmetric, metallic interface","N":10,"P":-0.017},{"series":"Asymmetric, metallic interface","N":11,"P":-0.012},{"series":"Asymmetric, metallic interface","N":12,"P":-0.002},{"series":"Asymmetric, metallic interface","N":13,"P":-0.002},{"series":"Asymmetric, metallic interface","N":14,"P":-0.01},{"series":"Asymmetric, metallic interface","N":15,"P":-0.28},{"series":"Asymmetric, metallic interface","N":16,"P":-0.283},{"series":"Asymmetric, metallic interface","N":17,"P":-0.293},{"series":"Asymmetric, metallic interface","N":18,"P":-0.27},{"series":"Asymmetric, metallic interface","N":19,"P":0.042},{"series":"Asymmetric, metallic interface","N":20,"P":0.039},{"series":"Asymmetric, metallic interface","N":21,"P":0.035},{"series":"Asymmetric, metallic interface","N":22,"P":0.022},{"series":"Asymmetric, metallic interface","N":23,"P":0.008},{"series":"Asymmetric, metallic interface","N":24,"P":0.018},
{"series":"Symmetric","N":7,"P":0.002},{"series":"Symmetric","N":8,"P":-0.007},{"series":"Symmetric","N":9,"P":0.003},{"series":"Symmetric","N":10,"P":-0.012},{"series":"Symmetric","N":11,"P":0.008},{"series":"Symmetric","N":12,"P":0.022},{"series":"Symmetric","N":13,"P":0.013},{"series":"Symmetric","N":14,"P":0.016},{"series":"Symmetric","N":15,"P":-0.365},{"series":"Symmetric","N":16,"P":-0.363},{"series":"Symmetric","N":17,"P":-0.373},{"series":"Symmetric","N":18,"P":-0.346},
{"series":"Asymmetric","N":7,"P":0},{"series":"Asymmetric","N":8,"P":0.002},{"series":"Asymmetric","N":9,"P":0.008},{"series":"Asymmetric","N":10,"P":-0.017},{"series":"Asymmetric","N":11,"P":-0.017},{"series":"Asymmetric","N":12,"P":-0.01},{"series":"Asymmetric","N":13,"P":-0.014},{"series":"Asymmetric","N":14,"P":-0.036},{"series":"Asymmetric","N":15,"P":-0.339},{"series":"Asymmetric","N":16,"P":-0.305},{"series":"Asymmetric","N":17,"P":-0.324},{"series":"Asymmetric","N":18,"P":-0.277}
]
},
"vconcat":[
 {"vconcat":[
  {"width":465,"height":238,
   "layer":[
    {"data":{"name":"asym"},"mark":{"type":"rect","width":10,"height":10.8},
     "encoding":{
      "x":{"field":"N","type":"quantitative","scale":{"domain":[0.5,24.5],"nice":false,"zero":false},"axis":null},
      "y":{"field":"V","type":"quantitative","scale":{"domain":[-0.25,4.28],"nice":false,"zero":false},"axis":{"orient":"left","values":[0,1,2,3,4],"title":"V","labelPadding":16,"titlePadding":16}},
      "color":{"field":"P","type":"quantitative","scale":{"domain":[-0.4,0,0.1],"range":["#0000ff","#ff0000","#ffff00"],"interpolate":"rgb"},
       "legend":{"orient":"right","offset":11,"direction":"vertical","gradientLength":237,"gradientThickness":24,"gradientStrokeColor":"#1a1a1a","gradientStrokeWidth":1,"values":[-0.4,-0.3,-0.2,-0.1,0,0.1],"format":".1~f","labelOffset":9,"labelOverlap":false,"title":"Pᶻⱼₗ","titleOrient":"right","titleAngle":270,"titleAnchor":"middle","titleBaseline":"top","titlePadding":6}}
     }},
    {"data":{"name":"gapsA"},"mark":{"type":"rule","color":"#ffffff","strokeWidth":1.2},
     "encoding":{"y":{"field":"V","type":"quantitative","axis":null}}},
    {"data":{"name":"interfaces"},"mark":{"type":"rule","color":"#b4b4b4","strokeWidth":1},
     "encoding":{
      "x":{"field":"N","type":"quantitative","axis":{"orient":"top","ticks":false,"labels":false,"title":"Asymmetric voltage drop","titlePadding":8}},
      "y":{"datum":-0.25,"type":"quantitative","axis":{"orient":"right","values":[0,1,2,3,4],"labels":false,"title":null}},
      "y2":{"datum":4.28}}},
    {"data":{"values":[{}]},"mark":{"type":"text","text":"(a)","fontWeight":"bold","align":"left","baseline":"middle"},
     "encoding":{"x":{"datum":-2.34,"type":"quantitative","axis":null},"y":{"datum":4.01,"type":"quantitative","axis":null}}}
   ],
   "resolve":{"axis":{"x":"independent","y":"independent"}}
  },
  {"width":465,"height":223,
   "layer":[
    {"data":{"name":"sym"},"mark":{"type":"rect","width":10,"height":10.2},
     "encoding":{
      "x":{"field":"N","type":"quantitative","scale":{"domain":[0.5,24.5],"nice":false,"zero":false},"axis":{"orient":"bottom","values":[2,4,6,8,10,12,14,16,18,20,22,24],"title":null,"labelPadding":13}},
      "y":{"field":"V","type":"quantitative","scale":{"domain":[-0.25,4.28],"nice":false,"zero":false},"axis":{"orient":"left","values":[0,1,2,3,4],"title":"V","labelPadding":16,"titlePadding":16}},
      "color":{"field":"P","type":"quantitative","scale":{"domain":[-0.4,0,0.1],"range":["#0000ff","#ff0000","#ffff00"],"interpolate":"rgb"},
       "legend":{"orient":"right","offset":11,"direction":"vertical","gradientLength":222,"gradientThickness":24,"gradientStrokeColor":"#1a1a1a","gradientStrokeWidth":1,"values":[-0.4,-0.3,-0.2,-0.1,0,0.1],"format":".1~f","labelOffset":9,"labelOverlap":false,"title":"Pᶻⱼₗ","titleOrient":"right","titleAngle":270,"titleAnchor":"middle","titleBaseline":"top","titlePadding":6}}
     }},
    {"data":{"name":"interfaces"},"mark":{"type":"rule","color":"#b4b4b4","strokeWidth":1},
     "encoding":{
      "x":{"field":"N","type":"quantitative","axis":{"orient":"top","values":[2,4,6,8,10,12,14,16,18,20,22,24],"labels":false,"title":"Symmetric voltage drop","titlePadding":10}},
      "y":{"datum":-0.25,"type":"quantitative","axis":{"orient":"right","values":[0,1,2,3,4],"labels":false,"title":null}},
      "y2":{"datum":4.28}}},
    {"data":{"values":[{}]},"mark":{"type":"text","text":"(b)","fontWeight":"bold","align":"left","baseline":"middle"},
     "encoding":{"x":{"datum":-2.34,"type":"quantitative","axis":null},"y":{"datum":4.06,"type":"quantitative","axis":null}}}
   ],
   "resolve":{"axis":{"x":"independent","y":"independent"}}
  }
 ],
 "spacing":3,
 "resolve":{"scale":{"x":"independent","y":"independent","color":"independent"},"legend":{"color":"independent"}}
 },
 {"vconcat":[
  {"width":531,"height":220,"view":{"stroke":null},
   "layer":[
    {"data":{"name":"interfaces"},"mark":{"type":"rule","color":"#b4b4b4","strokeWidth":1},
     "encoding":{"x":{"field":"N","type":"quantitative","scale":{"domain":[0.4,24.5],"range":[21,531],"nice":false,"zero":false},"axis":null}}},
    {"data":{"values":[{}]},"mark":{"type":"rule","color":"#b4b4b4","strokeWidth":1},
     "encoding":{"x":{"datum":0.4,"type":"quantitative","axis":null},"x2":{"datum":24.5},"y":{"datum":0,"type":"quantitative","scale":{"domain":[-0.45,0.15],"nice":false,"zero":false},"axis":null}}},
    {"data":{"name":"linesC"},"mark":{"type":"line","strokeWidth":1.8},
     "encoding":{
      "x":{"field":"N","type":"quantitative","axis":{"orient":"bottom","domain":true,"values":[2,4,6,8,10,12,14,16,18,20,22,24],"title":null,"labelPadding":15}},
      "y":{"field":"P","type":"quantitative","axis":{"orient":"left","domain":true,"offset":-21,"values":[-0.4,-0.2,0],"title":"Pᶻⱼₗ","labelPadding":22,"titlePadding":11}},
      "color":{"field":"series","type":"nominal","scale":{"domain":["Symmetric, metallic interface","Asymmetric, metallic interface","Symmetric","Asymmetric"],"range":["#ffa500","#000000","#ff0000","#0000ff"]},
       "legend":{"orient":"none","legendX":0,"legendY":110,"direction":"vertical","title":null,"symbolType":"stroke","symbolSize":200,"symbolStrokeWidth":2,"labelAlign":"right","labelOffset":-27,"symbolOffset":276,"rowPadding":0.3,"labelLimit":400}}
     }},
    {"data":{"name":"linesC"},"transform":[{"filter":{"field":"series","oneOf":["Symmetric, metallic interface","Asymmetric, metallic interface"]}}],"mark":{"type":"point","shape":"cross","filled":true,"size":22,"opacity":1},
     "encoding":{
      "x":{"field":"N","type":"quantitative","axis":null},
      "y":{"field":"P","type":"quantitative","axis":null},
      "color":{"field":"series","type":"nominal","legend":null}}},
    {"data":{"name":"linesC"},"transform":[{"filter":{"field":"series","equal":"Symmetric"}}],"mark":{"type":"point","shape":"circle","filled":true,"size":24,"opacity":1},
     "encoding":{
      "x":{"field":"N","type":"quantitative","axis":{"orient":"top","domain":true,"values":[2,4,6,8,10,12,14,16,18,20,22,24],"labels":false,"title":null}},
      "y":{"field":"P","type":"quantitative","axis":{"orient":"right","domain":true,"values":[-0.4,-0.2,0],"labels":false,"title":null}},
      "color":{"field":"series","type":"nominal","legend":null}}},
    {"data":{"name":"linesC"},"transform":[{"filter":{"field":"series","equal":"Asymmetric"}}],"mark":{"type":"point","shape":"square","filled":true,"size":18,"opacity":1},
     "encoding":{
      "x":{"field":"N","type":"quantitative","axis":null},
      "y":{"field":"P","type":"quantitative","axis":null},
      "color":{"field":"series","type":"nominal","legend":null}}},
    {"data":{"values":[{}]},"mark":{"type":"text","text":"V = V’ = 4"},
     "encoding":{"x":{"datum":11.9,"type":"quantitative","axis":null},"y":{"datum":0.085,"type":"quantitative","axis":null}}},
    {"data":{"values":[{}]},"mark":{"type":"text","text":"(c)","fontWeight":"bold","align":"left","baseline":"middle"},
     "encoding":{"x":{"datum":-2.92,"type":"quantitative","axis":null},"y":{"datum":0.112,"type":"quantitative","axis":null}}}
   ],
   "resolve":{"axis":{"x":"independent","y":"independent"}}
  },
  {"width":531,"height":204,"view":{"stroke":null},
   "layer":[
    {"data":{"name":"interfaces"},"mark":{"type":"rule","color":"#b4b4b4","strokeWidth":1},
     "encoding":{"x":{"field":"N","type":"quantitative","scale":{"domain":[0.4,24.5],"range":[21,531],"nice":false,"zero":false},"axis":null}}},
    {"data":{"values":[{}]},"mark":{"type":"rule","color":"#b4b4b4","strokeWidth":1},
     "encoding":{"x":{"datum":0.4,"type":"quantitative","axis":null},"x2":{"datum":24.5},"y":{"datum":0,"type":"quantitative","scale":{"domain":[-0.45,0.15],"nice":false,"zero":false},"axis":null}}},
    {"data":{"name":"linesD"},"mark":{"type":"line","strokeWidth":1.8},
     "encoding":{
      "x":{"field":"N","type":"quantitative","axis":{"orient":"bottom","domain":true,"values":[2,4,6,8,10,12,14,16,18,20,22,24],"title":"Nⱼₗ","labelPadding":15,"titlePadding":-1}},
      "y":{"field":"P","type":"quantitative","axis":{"orient":"left","domain":true,"offset":-21,"values":[-0.4,-0.2,0],"title":"Pᶻⱼₗ","labelPadding":22,"titlePadding":11}},
      "color":{"field":"series","type":"nominal","scale":{"domain":["Symmetric, metallic interface","Asymmetric, metallic interface","Symmetric","Asymmetric"],"range":["#ffa500","#000000","#ff0000","#0000ff"]},
       "legend":{"orient":"none","legendX":0,"legendY":103,"direction":"vertical","title":null,"symbolType":"stroke","symbolSize":200,"symbolStrokeWidth":2,"labelAlign":"right","labelOffset":-27,"symbolOffset":276,"rowPadding":0.3,"labelLimit":400}}
     }},
    {"data":{"name":"linesD"},"transform":[{"filter":{"field":"series","oneOf":["Symmetric, metallic interface","Asymmetric, metallic interface"]}}],"mark":{"type":"point","shape":"cross","filled":true,"size":22,"opacity":1},
     "encoding":{
      "x":{"field":"N","type":"quantitative","axis":null},
      "y":{"field":"P","type":"quantitative","axis":null},
      "color":{"field":"series","type":"nominal","legend":null}}},
    {"data":{"name":"linesD"},"transform":[{"filter":{"field":"series","equal":"Symmetric"}}],"mark":{"type":"point","shape":"circle","filled":true,"size":24,"opacity":1},
     "encoding":{
      "x":{"field":"N","type":"quantitative","axis":{"orient":"top","domain":true,"values":[2,4,6,8,10,12,14,16,18,20,22,24],"labels":false,"title":null}},
      "y":{"field":"P","type":"quantitative","axis":{"orient":"right","domain":true,"values":[-0.4,-0.2,0],"labels":false,"title":null}},
      "color":{"field":"series","type":"nominal","legend":null}}},
    {"data":{"name":"linesD"},"transform":[{"filter":{"field":"series","equal":"Asymmetric"}}],"mark":{"type":"point","shape":"square","filled":true,"size":18,"opacity":1},
     "encoding":{
      "x":{"field":"N","type":"quantitative","axis":null},
      "y":{"field":"P","type":"quantitative","axis":null},
      "color":{"field":"series","type":"nominal","legend":null}}},
    {"data":{"values":[{}]},"mark":{"type":"text","text":"V = V’ = 2"},
     "encoding":{"x":{"datum":11.9,"type":"quantitative","axis":null},"y":{"datum":0.085,"type":"quantitative","axis":null}}},
    {"data":{"values":[{}]},"mark":{"type":"text","text":"(d)","fontWeight":"bold","align":"left","baseline":"middle"},
     "encoding":{"x":{"datum":-2.92,"type":"quantitative","axis":null},"y":{"datum":0.113,"type":"quantitative","axis":null}}}
   ],
   "resolve":{"axis":{"x":"independent","y":"independent"}}
  }
 ],
 "spacing":11,
 "resolve":{"scale":{"x":"independent","y":"independent","color":"independent"},"legend":{"color":"independent"}}
 }
],
"spacing":28,
"resolve":{"scale":{"x":"independent","y":"independent","color":"independent"},"legend":{"color":"independent"}}
}
